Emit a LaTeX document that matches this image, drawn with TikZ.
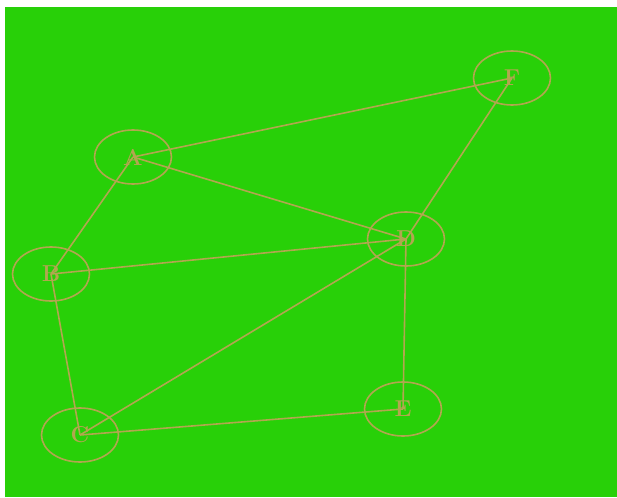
\documentclass[tikz,border=0pt]{standalone}
\usepackage{xcolor}
\usepackage{tikz}
\usetikzlibrary{shapes.geometric}
\usetikzlibrary{positioning}

\definecolor{fieldgreen}{RGB}{40,208,8}
\definecolor{olive}{RGB}{178,166,80}

\tikzset{
    vertex/.style={draw=olive, line width=1.6pt, ellipse, minimum width=77pt, minimum height=54pt, inner sep=0pt, text=olive, font=\fontsize{23}{23}\selectfont\bfseries},
    link/.style={draw=olive, line width=1.6pt}
}

\begin{document}
\begin{tikzpicture}[x=1pt, y=-1pt]
        \useasboundingbox (0,0) rectangle (617,497);
        \fill[white] (0,0) rectangle (617,497);
        \fill[fieldgreen] (5,7) rectangle (617,497);
        % vertices
        \node[vertex] (A) at (133,157) {A};
        \node[vertex] (B) at (51,274) {B};
        \node[vertex] (C) at (80,435) {C};
        \node[vertex] (D) at (406,239) {D};
        \node[vertex] (E) at (403,409) {E};
        \node[vertex] (F) at (512,78) {F};
        % edges
        \draw[link] (A.center) -- (F.center);
        \draw[link] (A.center) -- (D.center);
        \draw[link] (A.center) -- (B.center);
        \draw[link] (B.center) -- (D.center);
        \draw[link] (B.center) -- (C.center);
        \draw[link] (C.center) -- (D.center);
        \draw[link] (C.center) -- (E.center);
        \draw[link] (D.center) -- (E.center);
        \draw[link] (D.center) -- (F.center);
\end{tikzpicture}
\end{document}
